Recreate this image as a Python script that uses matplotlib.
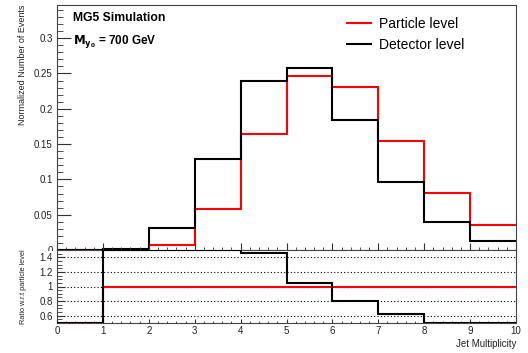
import numpy as np
import matplotlib
matplotlib.use('Agg')
import matplotlib.pyplot as plt
from matplotlib.ticker import MultipleLocator, FuncFormatter
from matplotlib.patches import Rectangle

plt.rcParams['font.family'] = ['Liberation Sans', 'DejaVu Sans']

# jet multiplicity bins 0..10
edges = np.arange(0, 11)
particle = [0.0, 0.0005, 0.0075, 0.0587, 0.164, 0.2465, 0.2305, 0.1545, 0.0812, 0.0352]
detector = [0.0, 0.002, 0.0306, 0.129, 0.240, 0.258, 0.1845, 0.0962, 0.0399, 0.0131]
ratio_ticks = [0.6, 0.8, 1.0, 1.2, 1.4]

part = np.array(particle)
det = np.array(detector)
r_det = np.divide(det, part, out=np.zeros_like(det), where=part > 0)
r_part = np.divide(part, part, out=np.zeros_like(part), where=part > 0)

fig = plt.figure(figsize=(5.28, 3.53), dpi=100)
L, W = 57 / 528, 459 / 528
ax = fig.add_axes([L, 103 / 353, W, 245 / 353])
rax = fig.add_axes([L, 30 / 353, W, 73 / 353])
ax.set_zorder(0)
rax.set_zorder(2)
# lower pad sits on top of the upper one, hiding the bottom of its labels
fig.patches.append(Rectangle((0, 0), 1, 102.5 / 353, transform=fig.transFigure,
                             facecolor='white', edgecolor='none', zorder=1))

frame = '#444444'
fmt = FuncFormatter(lambda v, p: f'{v:g}')
for a in (ax, rax):
    for s in a.spines.values():
        s.set_color(frame)
        s.set_linewidth(0.8)
    a.set_xlim(0, 10)
    a.xaxis.set_major_locator(MultipleLocator(1))
    a.xaxis.set_minor_locator(MultipleLocator(0.2))
    a.tick_params(which='both', direction='in', colors='#333333', labelcolor='#222222',
                  top=False, right=False, labelsize=7)

# upper pad: normalised distributions
ax.stairs(particle, edges, color='#ff0000', lw=1.5, baseline=None, label='Particle level')
ax.stairs(detector, edges, color='black', lw=1.5, baseline=None, label='Detector level')
ax.set_ylim(0, 0.347)
ax.yaxis.set_major_locator(MultipleLocator(0.05))
ax.yaxis.set_minor_locator(MultipleLocator(0.01))
ax.yaxis.set_major_formatter(fmt)
ax.tick_params(axis='y', which='major', length=10, pad=3)
ax.tick_params(axis='y', which='minor', length=4.5)
ax.tick_params(axis='x', which='major', length=5, labelbottom=False)
ax.tick_params(axis='x', which='minor', length=2.4)
ax.set_ylabel('Normalized Number of Events', fontsize=6.5, color='#222222')
ax.yaxis.set_label_coords(-0.066, 1.0)
ax.yaxis.label.set_ha('right')

ax.text(0.035, 0.947, 'MG5 Simulation', transform=ax.transAxes, fontsize=8.7,
        fontweight='bold', va='center')
ax.text(0.035, 0.849, r'$\mathbf{M_{y_0}}$ = 700 GeV', transform=ax.transAxes, fontsize=8.5,
        fontweight='bold', va='center')
ax.legend(loc='upper left', bbox_to_anchor=(0.631, 0.95), frameon=False, fontsize=10,
          handlelength=1.75, handletextpad=0.55, labelspacing=0.5, borderpad=0,
          borderaxespad=0)

# lower pad: ratio to particle level
rax.set_ylim(0.5, 1.5)
rax.grid(axis='y', color='black', ls=(0, (1, 2)), lw=0.8)
rax.stairs(np.clip(r_part, 0.5, 1.5), edges, color='#ff0000', lw=1.5, baseline=None, zorder=3)
rax.stairs(np.clip(r_det, 0.5, 1.5), edges, color='black', lw=1.5, baseline=None, zorder=4)
rax.set_yticks(ratio_ticks)
rax.yaxis.set_major_formatter(fmt)
rax.yaxis.set_minor_locator(MultipleLocator(0.05))
rax.tick_params(axis='y', which='major', length=6, pad=3)
rax.tick_params(axis='y', which='minor', length=3.5)
rax.tick_params(axis='x', which='major', length=3, pad=2)
rax.tick_params(axis='x', which='minor', length=1.6)
rax.set_ylabel('Ratio w.r.t particle level', fontsize=5.3, color='#222222')
rax.yaxis.set_label_coords(-0.066, 0.5)
rax.set_xlabel('Jet Multiplicity', fontsize=7, color='#222222')
rax.xaxis.set_label_coords(1.0, -0.22)
rax.xaxis.label.set_ha('right')

fig.savefig('out.png', dpi=100)
